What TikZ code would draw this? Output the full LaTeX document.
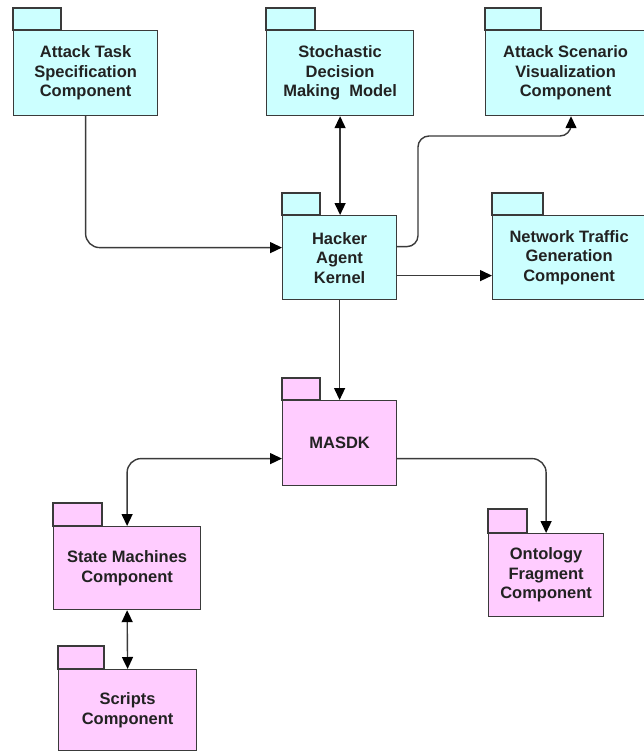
\documentclass[tikz,border=0pt]{standalone}
\usepackage{fontspec}
\setmainfont{Liberation Sans}
\usetikzlibrary{arrows.meta}
\definecolor{cyanfill}{HTML}{CCFFFF}
\definecolor{pinkfill}{HTML}{FFCCFF}
\definecolor{edgegray}{HTML}{3A3A3A}
\definecolor{txtcol}{HTML}{222222}
\begin{document}
\begin{tikzpicture}[x=1pt,y=-1pt,
  pkgbody/.style={draw=edgegray, line width=1.2pt, anchor=north west, inner sep=0pt,
    align=center, font=\fontsize{16.5}{19.5}\selectfont\bfseries, text=txtcol},
  cyanpkg/.style={pkgbody, fill=cyanfill},
  pinkpkg/.style={pkgbody, fill=pinkfill},
  pkgtab/.style={draw=edgegray, line width=1.2pt},
  tip/.tip={Triangle[length=12pt,width=11pt,color=black]},
  conn/.style={draw=edgegray, line width=1.4pt, -tip},
  conntwo/.style={draw=edgegray, line width=1.4pt, tip-tip},
]
\useasboundingbox (0,0) rectangle (644,752);
\fill[white] (0,0) rectangle (644,752);
\clip (0,0) rectangle (644,752);

% top row
\node[cyanpkg, minimum width=144pt, minimum height=85pt] (ats) at (13,30) {Attack Task\\Specification\\Component};
\draw[pkgtab, fill=cyanfill] (ats.north west) rectangle ++(48,-22);
\node[cyanpkg, minimum width=147pt, minimum height=85pt] (sdm) at (266,30) {Stochastic\\Decision\\Making\ \ Model};
\draw[pkgtab, fill=cyanfill] (sdm.north west) rectangle ++(49,-22);
\node[cyanpkg, minimum width=160pt, minimum height=85pt] (asv) at (485,30) {Attack Scenario\\Visualization\\Component};
\draw[pkgtab, fill=cyanfill] (asv.north west) rectangle ++(56,-22);

% middle row
\node[cyanpkg, minimum width=114pt, minimum height=84pt] (hak) at (282,215) {Hacker\\Agent\\Kernel};
\draw[pkgtab, fill=cyanfill] (hak.north west) rectangle ++(38,-22);
\node[cyanpkg, minimum width=153pt, minimum height=84pt] (ntg) at (492,215) {Network Traffic\\Generation\\Component};
\draw[pkgtab, fill=cyanfill] (ntg.north west) rectangle ++(51,-22);

% lower part
\node[pinkpkg, minimum width=114pt, minimum height=85pt] (masdk) at (282,400) {MASDK};
\draw[pkgtab, fill=pinkfill] (masdk.north west) rectangle ++(38,-22);
\node[pinkpkg, minimum width=147pt, minimum height=83pt] (sm) at (53,526) {State Machines\\Component};
\draw[pkgtab, fill=pinkfill] (sm.north west) rectangle ++(49,-23);
\node[pinkpkg, minimum width=115pt, minimum height=83pt] (onto) at (488,533) {Ontology\\Fragment\\Component};
\draw[pkgtab, fill=pinkfill] (onto.north west) rectangle ++(39,-24);
\node[pinkpkg, minimum width=138pt, minimum height=81pt] (scr) at (58,669) {Scripts\\Component};
\draw[pkgtab, fill=pinkfill] (scr.north west) rectangle ++(46,-23);

% connectors
\coordinate (bendA) at (418,136);
\draw[conn, rounded corners=14pt] (ats.south) |- ([yshift=10pt]hak.west);
\draw[conntwo] (sdm.south) -- (sdm.south |- hak.north);
\draw[conn, rounded corners=11pt] ([yshift=11pt]hak.east) -| (bendA) -| ([xshift=86pt]asv.south west);
\draw[conn] ([yshift=-18pt]hak.east) -- ([yshift=-18pt]ntg.west);
\draw[conn] (hak.south) -- (masdk.north);
\draw[conntwo, rounded corners=14pt] ([yshift=-15.5pt]masdk.west) -| (sm.north);
\draw[conn, rounded corners=14pt] ([yshift=-15.5pt]masdk.east) -| (onto.north);
\draw[conntwo] (sm.south) -- (scr.north);
\end{tikzpicture}
\end{document}
